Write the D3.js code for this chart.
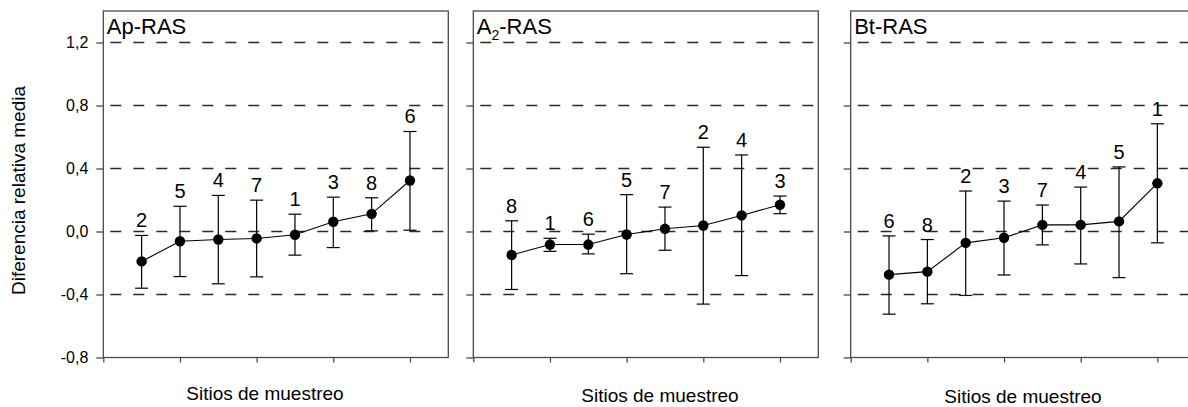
<!DOCTYPE html>
<html>
<head>
<meta charset="utf-8">
<script src="https://cdn.jsdelivr.net/npm/d3@7"></script>
<style>
  html, body { margin: 0; padding: 0; background: #fff; }
  svg { display: block; }
  text { font-family: "Liberation Sans", Arial, sans-serif; fill: #000; }
</style>
</head>
<body>
<svg id="chart" width="1188" height="407"></svg>
<script>
// ---- data ----
const panelTitles = ["Ap-RAS", "A2-RAS", "Bt-RAS"];
const yTickValues = [-0.8, -0.4, 0, 0.4, 0.8, 1.2];
const gridValues = [-0.4, 0, 0.4, 0.8, 1.2];
const xTickValues = [0, 2, 4, 6, 8];
const xAxisTitle = "Sitios de muestreo";
const yAxisTitle = "Diferencia relativa media";

const apSites = ["2", "5", "4", "7", "1", "3", "8", "6"];
const apMean  = [-0.19, -0.062, -0.051, -0.044, -0.021, 0.062, 0.112, 0.324];
const apUpper = [-0.025, 0.16, 0.229, 0.199, 0.11, 0.218, 0.214, 0.635];
const apLower = [-0.36, -0.286, -0.332, -0.288, -0.15, -0.102, 0.004, 0.008];

const a2Sites = ["8", "1", "6", "5", "7", "2", "4", "3"];
const a2Mean  = [-0.149, -0.083, -0.083, -0.019, 0.017, 0.038, 0.102, 0.17];
const a2Upper = [0.068, -0.043, -0.017, 0.234, 0.155, 0.535, 0.486, 0.225];
const a2Lower = [-0.368, -0.126, -0.142, -0.268, -0.119, -0.461, -0.28, 0.113];

const btSites = ["6", "8", "2", "3", "7", "4", "5", "1"];
const btMean  = [-0.274, -0.255, -0.072, -0.04, 0.042, 0.042, 0.064, 0.306];
const btUpper = [-0.028, -0.051, 0.257, 0.193, 0.168, 0.282, 0.41, 0.684];
const btLower = [-0.525, -0.459, -0.406, -0.276, -0.085, -0.206, -0.293, -0.072];

// ---- layout ----
const panelLeft = [103.3, 473.3, 850.7];
const panelWidth = 345;
const xLabelCenter = [265, 660, 1023];
const xLabelBase = [400, 401.5, 402.5];
const plotTop = 11, plotBottom = 357.5;

const panels = [
  { title: panelTitles[0], sites: apSites, mean: apMean, upper: apUpper, lower: apLower },
  { title: panelTitles[1], sites: a2Sites, mean: a2Mean, upper: a2Upper, lower: a2Lower },
  { title: panelTitles[2], sites: btSites, mean: btMean, upper: btUpper, lower: btLower }
];

const svg = d3.select("#chart");
svg.append("rect").attr("width", 1188).attr("height", 407).attr("fill", "#fff");

const y = d3.scaleLinear().domain([-0.8, 1.4]).range([plotBottom, plotTop]);
const frameColor = "#4a4a4a";
const fmt = d => d.toFixed(1).replace(".", ",");

panels.forEach((p, pi) => {
  const x0 = panelLeft[pi];
  const x = d3.scaleLinear().domain([0, 9]).range([x0, x0 + panelWidth]);
  const g = svg.append("g");

  // gridlines
  g.selectAll("line.grid").data(gridValues).enter().append("line")
    .attr("x1", x(0)).attr("x2", x(9))
    .attr("y1", d => y(d)).attr("y2", d => y(d))
    .attr("stroke", "#2a2a2a").attr("stroke-width", 1.6)
    .attr("stroke-dasharray", "11,12").attr("stroke-dashoffset", 16);

  // y axis ticks
  const yAxis = d3.axisLeft(y).tickValues(yTickValues).tickSize(7).tickPadding(8)
    .tickFormat(pi === 0 ? fmt : "");
  const ya = g.append("g").attr("transform", `translate(${x0},0)`).call(yAxis);
  ya.select(".domain").remove();
  ya.selectAll(".tick line").attr("stroke", frameColor).attr("stroke-width", 1.3);
  ya.selectAll(".tick text").style("font-size", "16px").style("font-family", '"Liberation Sans", Arial, sans-serif').attr("fill", "#000");

  // x axis ticks
  const xAxis = d3.axisBottom(x).tickValues(xTickValues).tickSize(5).tickFormat("");
  const xa = g.append("g").attr("transform", `translate(0,${plotBottom})`).call(xAxis);
  xa.select(".domain").remove();
  xa.selectAll(".tick line").attr("stroke", frameColor).attr("stroke-width", 1.3);

  // frame
  g.append("rect").attr("x", x(0)).attr("y", plotTop)
    .attr("width", x(9) - x(0)).attr("height", plotBottom - plotTop)
    .attr("fill", "none").attr("stroke", frameColor).attr("stroke-width", 1.3);

  const idx = d3.range(p.mean.length);
  const px = i => x(i + 1);

  // error bars
  const eb = g.append("g").attr("stroke", "#000").attr("stroke-width", 1.2);
  eb.selectAll("line.v").data(idx).enter().append("line")
    .attr("x1", px).attr("x2", px)
    .attr("y1", i => y(p.upper[i])).attr("y2", i => y(p.lower[i]));
  eb.selectAll("line.cu").data(idx).enter().append("line")
    .attr("x1", i => px(i) - 6.5).attr("x2", i => px(i) + 6.5)
    .attr("y1", i => y(p.upper[i])).attr("y2", i => y(p.upper[i]));
  eb.selectAll("line.cl").data(idx).enter().append("line")
    .attr("x1", i => px(i) - 6.5).attr("x2", i => px(i) + 6.5)
    .attr("y1", i => y(p.lower[i])).attr("y2", i => y(p.lower[i]));

  // connecting line
  const line = d3.line().x(i => px(i)).y(i => y(p.mean[i]));
  g.append("path").datum(idx).attr("d", line)
    .attr("fill", "none").attr("stroke", "#000").attr("stroke-width", 1.1);

  // points
  g.selectAll("circle").data(idx).enter().append("circle")
    .attr("cx", px).attr("cy", i => y(p.mean[i])).attr("r", 5.2).attr("fill", "#000");

  // site labels
  g.selectAll("text.site").data(idx).enter().append("text")
    .attr("class", "site")
    .attr("x", px).attr("y", i => y(p.upper[i]) - 8)
    .attr("text-anchor", "middle").style("font-size", "20px")
    .text(i => p.sites[i]);

  // panel title
  const t = g.append("text").attr("x", x0 + 3.5).attr("y", 34).style("font-size", "22px");
  if (pi === 1) {
    t.append("tspan").text("A");
    t.append("tspan").attr("dy", 6).style("font-size", "14px").text("2");
    t.append("tspan").attr("dy", -6).text("-RAS");
  } else {
    t.text(p.title);
  }

  // x axis title
  g.append("text").attr("x", xLabelCenter[pi]).attr("y", xLabelBase[pi])
    .attr("text-anchor", "middle").style("font-size", "19px").text(xAxisTitle);
});

// y axis title
svg.append("text")
  .attr("transform", "translate(25,190.5) rotate(-90)")
  .attr("text-anchor", "middle").style("font-size", "19px")
  .text(yAxisTitle);
</script>
</body>
</html>
